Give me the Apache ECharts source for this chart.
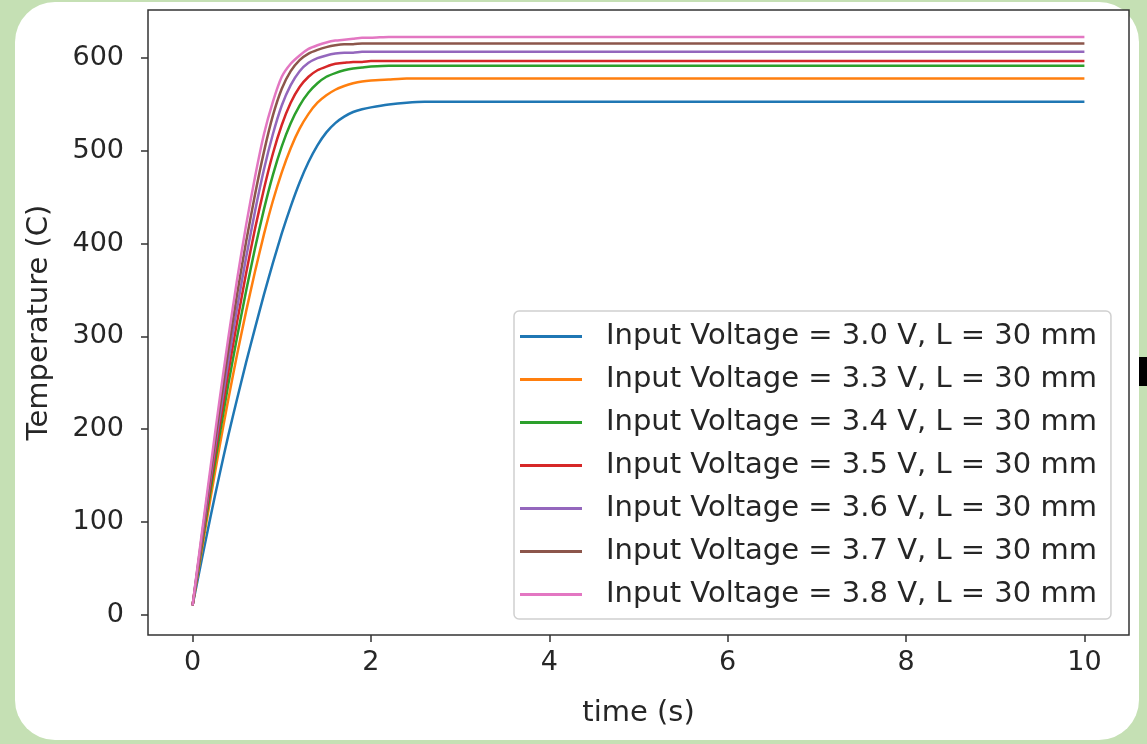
<!DOCTYPE html>
<html>
<head>
<meta charset="utf-8">
<script src="https://cdn.jsdelivr.net/npm/echarts@6/dist/echarts.min.js"></script>
<style>
  html, body { margin: 0; padding: 0; background: #c5e0b4; }
  #chart { width: 1147px; height: 744px; }
</style>
</head>
<body>
<div id="chart"></div>
<script>
// time samples (s)
const times = [0, 0.1, 0.2, 0.3, 0.4, 0.5, 0.6, 0.7, 0.8, 0.9, 1.0, 1.1, 1.2, 1.3, 1.4, 1.5, 1.6, 1.7, 1.8, 1.9, 2.0,
  2.2, 2.4, 2.6, 3, 4, 5, 6, 7, 8, 9, 10];

// temperature (C)
const t30 = [10, 58, 105, 150, 193, 233, 272, 309, 345, 379, 411, 440, 466, 488, 506, 520, 530, 537, 542, 545, 547,
  550, 552, 553, 553, 553, 553, 553, 553, 553, 553, 553];
const t33 = [10, 68, 125, 180, 232, 281, 327, 370, 410, 446, 477, 503, 524, 540, 552, 560, 566, 570, 573, 575, 576,
  577, 578, 578, 578, 578, 578, 578, 578, 578, 578, 578];
const t34 = [10, 72, 133, 192, 248, 300, 349, 395, 437, 474, 505, 530, 549, 563, 573, 580, 584, 587, 589, 590, 591,
  592, 592, 592, 592, 592, 592, 592, 592, 592, 592, 592];
const t35 = [10, 76, 140, 202, 261, 316, 368, 416, 459, 497, 528, 552, 569, 580, 587, 591, 594, 595, 596, 596, 597,
  597, 597, 597, 597, 597, 597, 597, 597, 597, 597, 597];
const t36 = [10, 79, 146, 211, 273, 331, 385, 435, 480, 518, 549, 571, 586, 595, 600, 603, 605, 606, 606, 607, 607,
  607, 607, 607, 607, 607, 607, 607, 607, 607, 607, 607];
const t37 = [10, 82, 152, 220, 285, 346, 402, 453, 499, 538, 567, 586, 598, 605, 609, 612, 614, 615, 615, 616, 616,
  616, 616, 616, 616, 616, 616, 616, 616, 616, 616, 616];
const t38 = [10, 85, 158, 230, 298, 362, 420, 472, 518, 553, 580, 594, 603, 610, 614, 617, 619, 620, 621, 622, 622,
  623, 623, 623, 623, 623, 623, 623, 623, 623, 623, 623];

const seriesNames = [
  'Input Voltage = 3.0 V, L = 30 mm',
  'Input Voltage = 3.3 V, L = 30 mm',
  'Input Voltage = 3.4 V, L = 30 mm',
  'Input Voltage = 3.5 V, L = 30 mm',
  'Input Voltage = 3.6 V, L = 30 mm',
  'Input Voltage = 3.7 V, L = 30 mm',
  'Input Voltage = 3.8 V, L = 30 mm'
];
const seriesData = [t30, t33, t34, t35, t36, t37, t38];

const xTicks = [0, 2, 4, 6, 8, 10];
const yTicks = [0, 100, 200, 300, 400, 500, 600];

const colors = ['#1f77b4', '#ff7f0e', '#2ca02c', '#d62728', '#9467bd', '#8c564b', '#e377c2'];
const textColor = '#262626';
const fontFamily = 'DejaVu Sans';

let myChart = echarts.init(document.getElementById('chart'));

let option = {
  color: colors,
  animation: false,
  textStyle: { fontFamily: fontFamily, color: textColor },
  graphic: [
    {
      type: 'rect', z: -10, silent: true,
      shape: { x: 15, y: 2, width: 1124, height: 738, r: 40 },
      style: { fill: '#ffffff' }
    },
    {
      type: 'rect', z: -5, silent: true,
      shape: { x: 1139, y: 357, width: 8, height: 29 },
      style: { fill: '#000000' }
    }
  ],
  grid: {
    left: 148,
    right: 18,
    top: 10,
    bottom: 109,
    show: true,
    borderColor: '#333',
    borderWidth: 1.5,
    backgroundColor: '#fff'
  },
  legend: {
    orient: 'vertical',
    left: 514,
    top: 311,
    data: seriesNames,
    icon: 'rect',
    itemWidth: 62,
    itemHeight: 3,
    itemGap: 14,
    padding: [11, 14, 10, 6],
    backgroundColor: 'rgba(255,255,255,0.9)',
    borderColor: '#d0d0d0',
    borderWidth: 1.5,
    borderRadius: 5,
    textStyle: {
      fontFamily: fontFamily,
      fontSize: 29,
      lineHeight: 28,
      color: textColor,
      padding: [0, 0, 0, 19]
    }
  },
  xAxis: {
    type: 'value',
    min: -0.5,
    max: 10.5,
    name: 'time (s)',
    nameLocation: 'middle',
    nameGap: 64,
    nameTextStyle: { fontSize: 29, color: textColor, fontFamily: fontFamily },
    splitLine: { show: false },
    axisLine: { show: false, onZero: false },
    axisTick: { show: true, inside: false, length: 7, lineStyle: { color: '#333', width: 1.5 }, customValues: xTicks },
    axisLabel: { fontSize: 27, color: textColor, margin: 14, customValues: xTicks }
  },
  yAxis: {
    type: 'value',
    min: -22,
    max: 652,
    name: 'Temperature (C)',
    nameLocation: 'middle',
    nameRotate: 90,
    nameGap: 94,
    nameTextStyle: { fontSize: 29, color: textColor, fontFamily: fontFamily },
    splitLine: { show: false },
    axisLine: { show: false, onZero: false },
    axisTick: { show: true, inside: false, length: 7, lineStyle: { color: '#333', width: 1.5 }, customValues: yTicks },
    axisLabel: { fontSize: 27, color: textColor, margin: 24, customValues: yTicks }
  },
  series: seriesNames.map((name, i) => ({
    name: name,
    type: 'line',
    data: times.map((t, j) => [t, seriesData[i][j]]),
    showSymbol: false,
    symbol: 'none',
    smooth: 0.2,
    lineStyle: { width: 2.5 }
  }))
};
myChart.setOption(option);
</script>
</body>
</html>
